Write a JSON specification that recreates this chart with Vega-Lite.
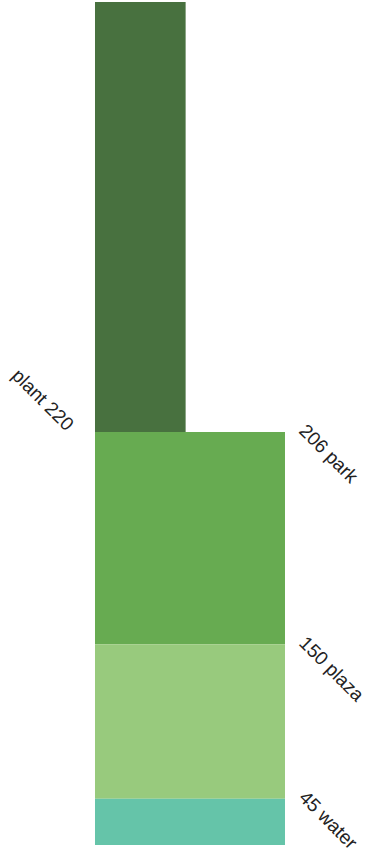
{
  "$schema": "https://vega.github.io/schema/vega-lite/v6.json",
  "autosize": {"type": "fit", "contains": "padding"},
  "width": 370,
  "height": 854,
  "padding": 0,
  "background": "white",
  "config": {"view": {"stroke": null}},
  "data": {
    "values": [
      {"category": "plant", "value": 220},
      {"category": "park", "value": 206},
      {"category": "plaza", "value": 150},
      {"category": "water", "value": 45}
    ]
  },
  "transform": [
    {"calculate": "indexof(['water','plaza','park','plant'], datum.category)", "as": "rank"},
    {"calculate": "datum.category === 'plant' ? datum.value * 1.8977 : datum.value", "as": "h"},
    {"calculate": "0", "as": "x0"},
    {"calculate": "datum.category === 'plant' ? 0.477 : 1", "as": "w"},
    {"stack": "h", "groupby": [], "sort": [{"field": "rank", "order": "ascending"}], "as": ["y0", "y1"]},
    {"calculate": "datum.category === 'plant' ? datum.category + ' ' + datum.value : datum.value + ' ' + datum.category", "as": "label"},
    {"calculate": "datum.category === 'plant' ? datum.y0 : datum.y1", "as": "ly"},
    {"calculate": "datum.category === 'plant' ? 0 : 1", "as": "lx"}
  ],
  "layer": [
    {
      "mark": {"type": "rect"},
      "encoding": {
        "x": {"field": "x0", "type": "quantitative", "scale": {"domain": [-0.5, 1.4474], "nice": false, "zero": false}, "axis": null},
        "x2": {"field": "w"},
        "y": {"field": "y0", "type": "quantitative", "scale": {"domain": [-8.74, 820.45], "nice": false, "zero": false}, "axis": null},
        "y2": {"field": "y1"},
        "color": {
          "field": "category",
          "type": "nominal",
          "scale": {"domain": ["plant", "park", "plaza", "water"], "range": ["#48713f", "#67ab51", "#98ca7d", "#65c4a9"]},
          "legend": null
        }
      }
    },
    {
      "transform": [{"filter": "datum.category === 'plant'"}],
      "mark": {"type": "text", "align": "right", "baseline": "alphabetic", "angle": 45, "xOffset": -29, "font": "Liberation Sans", "fontSize": 19, "color": "#222222"},
      "encoding": {
        "x": {"field": "lx", "type": "quantitative"},
        "y": {"field": "ly", "type": "quantitative"},
        "text": {"field": "label"}
      }
    },
    {
      "transform": [{"filter": "datum.category !== 'plant'"}],
      "mark": {"type": "text", "align": "left", "baseline": "alphabetic", "angle": 45, "xOffset": 13, "font": "Liberation Sans", "fontSize": 19, "color": "#222222"},
      "encoding": {
        "x": {"field": "lx", "type": "quantitative"},
        "y": {"field": "ly", "type": "quantitative"},
        "text": {"field": "label"}
      }
    }
  ]
}
